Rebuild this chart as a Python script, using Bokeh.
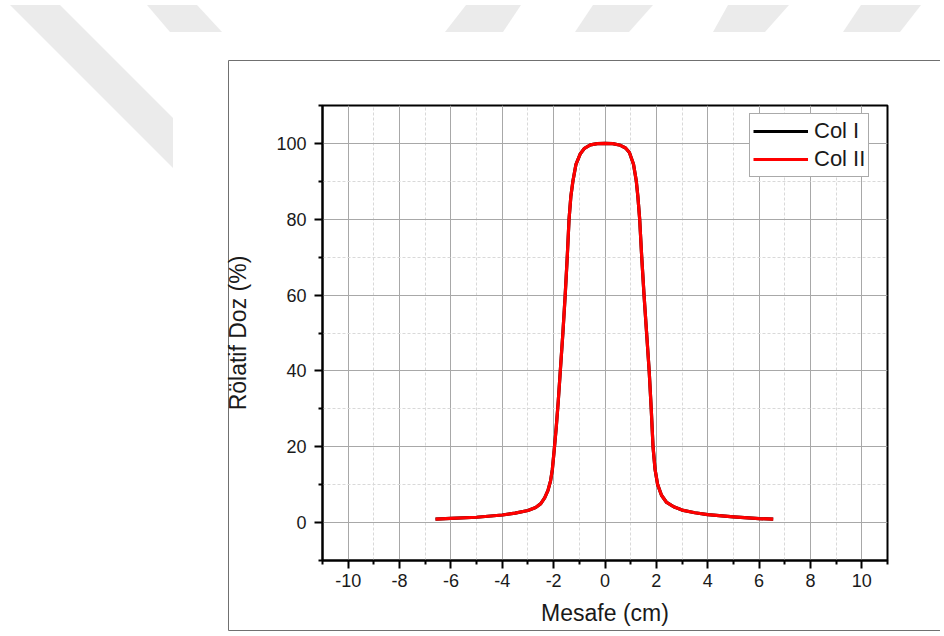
from urllib.parse import quote
from bokeh.plotting import figure
from bokeh.models import Range1d, FixedTicker, Legend, LegendItem
from bokeh.embed import file_html
from bokeh.resources import INLINE

# ---------------- data ----------------
mesafe = [-6.6, -6.0, -5.0, -4.0, -3.5, -3.0, -2.7, -2.5, -2.35, -2.22, -2.12, -2.05,
          -1.98, -1.90, -1.82, -1.74, -1.64, -1.55, -1.47, -1.40, -1.33, -1.25, -1.13,
          -0.96, -0.80, -0.57, -0.30, 0.0, 0.30, 0.60, 0.80, 0.95, 1.11, 1.22, 1.28,
          1.35, 1.43, 1.52, 1.62, 1.72, 1.80, 1.87, 1.95, 2.05, 2.20, 2.40, 2.70, 3.0,
          3.5, 4.0, 5.0, 6.0, 6.55]
col_i = [0.9, 1.1, 1.4, 2.0, 2.5, 3.2, 4.0, 5.0, 6.5, 8.5, 11.0, 14.0,
         19.0, 25.0, 32.0, 40.0, 50.0, 60.0, 70.0, 80.0, 86.0, 90.0, 94.5,
         97.3, 98.7, 99.6, 99.95, 100.0, 99.95, 99.5, 98.8, 97.6, 94.5, 90.0, 86.0,
         80.0, 70.0, 60.0, 50.0, 40.0, 30.0, 20.0, 14.0, 10.0, 7.2, 5.3, 4.1, 3.3,
         2.6, 2.1, 1.5, 1.05, 0.9]
col_ii = [0.9, 1.1, 1.4, 2.0, 2.5, 3.2, 4.0, 5.0, 6.5, 8.5, 11.0, 14.0,
          19.0, 25.0, 32.0, 40.0, 50.0, 60.0, 70.0, 80.0, 86.0, 90.0, 94.5,
          97.3, 98.7, 99.6, 99.95, 100.0, 99.95, 99.5, 98.8, 97.6, 94.5, 90.0, 86.0,
          80.0, 70.0, 60.0, 50.0, 40.0, 30.0, 20.0, 14.0, 10.0, 7.2, 5.3, 4.1, 3.3,
          2.6, 2.1, 1.5, 1.05, 0.9]
series_names = ["Col I", "Col II"]
x_ticks = [-10, -8, -6, -4, -2, 0, 2, 4, 6, 8, 10]
x_minor = [-11, -9, -7, -5, -3, -1, 1, 3, 5, 7, 9, 11]
y_ticks = [0, 20, 40, 60, 80, 100]
y_minor = [-10, 10, 30, 50, 70, 90, 110]
x_title = "Mesafe (cm)"
y_title = "Rölatif Doz (%)"

FONT = "Liberation Sans"
W, H = 940, 634

# -------------- decorative page background (watermark + outer frame) --------------
wm = "#ebebeb"
polys = [
    "10,5 60,5 173,118 173,168",
    "147,5 197,5 222,32 170,32",
    "466,5 521,5 503,32 445,32",
    "593,5 653,5 629,32 575,32",
    "728,5 789,5 765,32 713,32",
    "861,5 921,5 900,32 843,32",
]
svg = [f'<svg xmlns="http://www.w3.org/2000/svg" width="{W}" height="{H}">']
for pts in polys:
    svg.append(f'<polygon points="{pts}" fill="{wm}"/>')
svg.append(f'<rect x="173" y="32" width="{W}" height="{H}" fill="#ffffff"/>')
svg.append(f'<path d="M {W} 60.5 L 228.5 60.5 L 228.5 630.5 L {W} 630.5" '
           'fill="none" stroke="#707070" stroke-width="1"/>')
svg.append('</svg>')
svg_uri = "data:image/svg+xml;utf8," + quote("".join(svg))

# ---------------- figure ----------------
p = figure(width=W, height=H, output_backend="svg", toolbar_location=None,
           x_range=Range1d(-11, 11), y_range=Range1d(-10, 110),
           min_border_left=322, min_border_right=W - 887, min_border_top=105,
           min_border_bottom=H - 560)
p.styles = {"background-image": f'url("{svg_uri}")',
            "background-repeat": "no-repeat"}
p.border_fill_color = None
p.background_fill_color = "white"
p.outline_line_color = "black"
p.outline_line_width = 2

xt = FixedTicker(ticks=x_ticks, minor_ticks=x_minor)
yt = FixedTicker(ticks=y_ticks, minor_ticks=y_minor)
p.xaxis.ticker = xt
p.yaxis.ticker = yt
p.xgrid.ticker = xt
p.ygrid.ticker = yt
p.xaxis.major_label_overrides = {t: str(t) for t in x_ticks}
p.yaxis.major_label_overrides = {t: str(t) for t in y_ticks}

for ax in (p.xaxis, p.yaxis):
    ax.axis_line_color = "black"
    ax.axis_line_width = 2
    ax.major_tick_line_color = "black"
    ax.major_tick_line_width = 2
    ax.minor_tick_line_color = "black"
    ax.minor_tick_line_width = 2
    ax.major_tick_in = 0
    ax.major_tick_out = 8
    ax.minor_tick_in = 0
    ax.minor_tick_out = 4
    ax.major_label_text_font = FONT
    ax.major_label_text_font_size = "18px"
    ax.major_label_text_color = "#1a1a1a"
    ax.axis_label_text_font = FONT
    ax.axis_label_text_font_size = "23px"
    ax.axis_label_text_font_style = "normal"
    ax.axis_label_text_color = "#1a1a1a"

p.xaxis.axis_label = x_title
p.yaxis.axis_label = y_title
p.xaxis.major_label_standoff = 5
p.xaxis.axis_label_standoff = 10
p.yaxis.major_label_standoff = 8
p.yaxis.axis_label_standoff = 22

for g in (p.xgrid, p.ygrid):
    g.grid_line_color = "#a8a8a8"
    g.grid_line_width = 1
    g.minor_grid_line_color = "#d9d9d9"
    g.minor_grid_line_width = 1
    g.minor_grid_line_dash = "3 2"

r1 = p.line(mesafe, col_i, line_color="black", line_width=3.2, line_join="round")
r2 = p.line(mesafe, col_ii, line_color="#ff0000", line_width=3.2, line_join="round")

legend = Legend(items=[LegendItem(label=series_names[0], renderers=[r1]),
                       LegendItem(label=series_names[1], renderers=[r2])],
                location=(427, 383), margin=0, padding=3, spacing=0,
                glyph_width=55, glyph_height=28, label_height=28,
                label_standoff=6, label_text_font=FONT,
                label_text_font_size="22px", label_text_color="#1a1a1a",
                border_line_color="#555555", border_line_width=1,
                background_fill_color="white", background_fill_alpha=1.0)
p.add_layout(legend)

open("out.html", "w").write(file_html(p, INLINE))
